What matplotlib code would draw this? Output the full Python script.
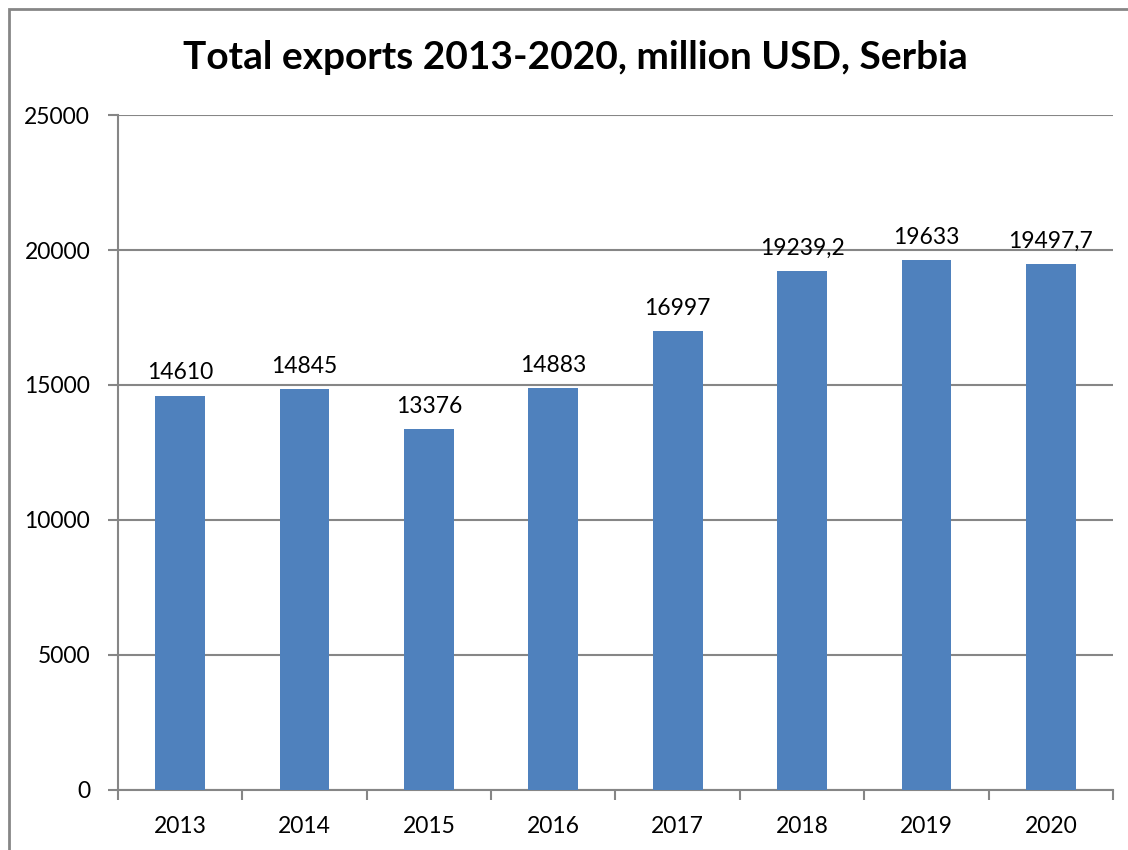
import matplotlib.pyplot as plt
from matplotlib.patches import Rectangle

# -------------- Data --------------
years = ['2013', '2014', '2015', '2016', '2017', '2018', '2019', '2020']
exports = [14610, 14845, 13376, 14883, 16997, 19239.2, 19633, 19497.7]
labels = ['14610', '14845', '13376', '14883', '16997', '19239,2', '19633', '19497,7']
yticks = [0, 5000, 10000, 15000, 20000, 25000]

plt.rcParams['font.family'] = ['Lato', 'DejaVu Sans']
grid_col = '#868686'

fig = plt.figure(figsize=(11.28, 8.5), dpi=100)
ax = fig.add_axes([0.1046, 0.0706, 0.8821, 0.7941])

# outer chart border (right and bottom fall outside the picture)
fig.patches.append(Rectangle((9 / 1128, -0.1), 1.2, 1 - 9 / 850 + 0.1,
                             transform=fig.transFigure, fill=False,
                             edgecolor=grid_col, linewidth=2))

x = range(len(years))
ax.bar(x, exports, width=0.4, color='#4F81BD', zorder=3)
for i, v in enumerate(exports):
    ax.text(i, v + 450, labels[i], ha='center', va='bottom', fontsize=16.5)

ax.set_xlim(-0.5, len(years) - 0.5)
ax.set_ylim(0, 25000)
ax.set_yticks(yticks)
ax.set_yticklabels([str(t) for t in yticks], fontsize=16.5)
ax.set_xticks(list(x))
ax.set_xticklabels(years, fontsize=16.5)
ax.tick_params(axis='x', length=0, pad=19)
ax.tick_params(axis='y', length=7, width=1.5, color=grid_col, pad=13)
# category boundary ticks
ax.set_xticks([i - 0.5 for i in range(len(years) + 1)], minor=True)
ax.tick_params(axis='x', which='minor', length=7, width=1.5, color=grid_col)

ax.grid(axis='y', color=grid_col, linewidth=1.5, zorder=0)
for s in ['top', 'right']:
    ax.spines[s].set_visible(False)
for s in ['left', 'bottom']:
    ax.spines[s].set_color(grid_col)
    ax.spines[s].set_linewidth(1.5)

fig.text(0.51, 0.932, 'Total exports 2013-2020, million USD, Serbia',
         ha='center', va='center', fontsize=28, fontweight='bold')

plt.savefig('out.png', dpi=100)
